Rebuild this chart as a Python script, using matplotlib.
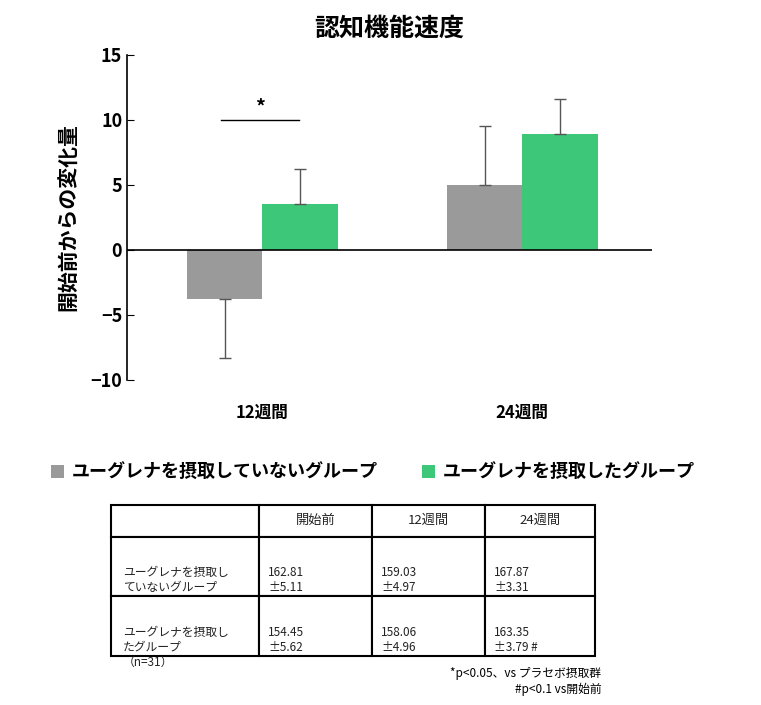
import matplotlib
matplotlib.use("Agg")
import matplotlib.pyplot as plt

plt.rcParams["font.family"] = "Noto Sans CJK JP"

# data
periods = ["12週間", "24週間"]
series_names = ["ユーグレナを摂取していないグループ", "ユーグレナを摂取したグループ"]
control_vals = [-3.8, 5.0]
control_err = [4.5, 4.5]
euglena_vals = [3.55, 8.95]
euglena_err = [2.65, 2.65]
colors = ["#9a9a9a", "#3cc878"]

table_cols = ["", "開始前", "12週間", "24週間"]
table_rows = [
    ["ユーグレナを摂取し\nていないグループ\n（n=31）", "162.81\n±5.11", "159.03\n±4.97", "167.87\n±3.31"],
    ["ユーグレナを摂取し\nたグループ\n（n=31）", "154.45\n±5.62", "158.06\n±4.96", "163.35\n±3.79 #"],
]

fig = plt.figure(figsize=(7.61, 7.05), dpi=100)
ax = fig.add_axes([0.167, 0.461, 0.69, 0.461])

x = range(len(periods))
w = 0.29
err_kw = dict(ecolor="#555555", elinewidth=1, capsize=4, capthick=1)
ax.bar([i - w / 2 for i in x], control_vals, w, color=colors[0],
       yerr=[[0] * 2 if False else [0, 0], control_err][0:2] if False else
       [[0 if v >= 0 else e for v, e in zip(control_vals, control_err)],
        [e if v >= 0 else 0 for v, e in zip(control_vals, control_err)]],
       error_kw=err_kw, label=series_names[0])
ax.bar([i + w / 2 for i in x], euglena_vals, w, color=colors[1],
       yerr=[[0, 0], euglena_err], error_kw=err_kw, label=series_names[1])

ax.set_xlim(-0.52, 1.5)
ax.set_ylim(-10, 15)
ax.set_yticks([-10, -5, 0, 5, 10, 15])
ax.tick_params(axis="y", labelsize=13, direction="in", length=5)
for t in ax.get_yticklabels():
    t.set_fontweight("bold")
ax.set_xticks([])
for i, p in enumerate(periods):
    ax.text(i, -12.5, p, ha="center", va="center", fontsize=12, fontweight="bold")
ax.axhline(0, color="black", lw=1.2)
for s in ["top", "right", "bottom"]:
    ax.spines[s].set_visible(False)
ax.spines["left"].set_linewidth(1.2)
ax.set_ylabel("開始前からの変化量", fontsize=15, fontweight="bold", labelpad=8)
ax.set_title("認知機能速度", fontsize=18, fontweight="bold", pad=14)

# significance marker
ax.plot([-0.16, 0.14], [10, 10], color="black", lw=1)
ax.text(-0.01, 10.3, "*", ha="center", va="bottom", fontsize=14, fontweight="bold")

fig.legend(loc="center", bbox_to_anchor=(0.49, 0.33), ncol=2, frameon=False,
           fontsize=13, prop={"weight": "bold", "size": 13},
           handlelength=0.7, handleheight=0.7, columnspacing=2.5, handletextpad=0.4)

tax = fig.add_axes([0.146, 0.07, 0.636, 0.214])
tax.axis("off")
tbl = tax.table(cellText=table_rows, colLabels=table_cols, cellLoc="left",
                bbox=[0, 0, 1, 1], colWidths=[148, 113, 113, 110])
tbl.auto_set_font_size(False)
for (r, c), cell in tbl.get_celld().items():
    cell.set_linewidth(1.5)
    cell.set_text_props(fontsize=8.5 if r > 0 else 9.5, va="top" if r > 0 else "center",
                        color="#222222")
    cell.PAD = 0.08
    if r == 0:
        cell.set_height(32)
    else:
        cell.set_height(60)
    if r > 0:
        cell.get_text().set_y(cell.get_y() + cell.get_height())
tbl.scale(1, 1)

fig.text(0.79, 0.045, "*p<0.05、vs プラセボ摂取群", ha="right", va="center", fontsize=8.5)
fig.text(0.79, 0.022, "#p<0.1 vs開始前", ha="right", va="center", fontsize=8.5)

fig.savefig("out.png", dpi=100)
